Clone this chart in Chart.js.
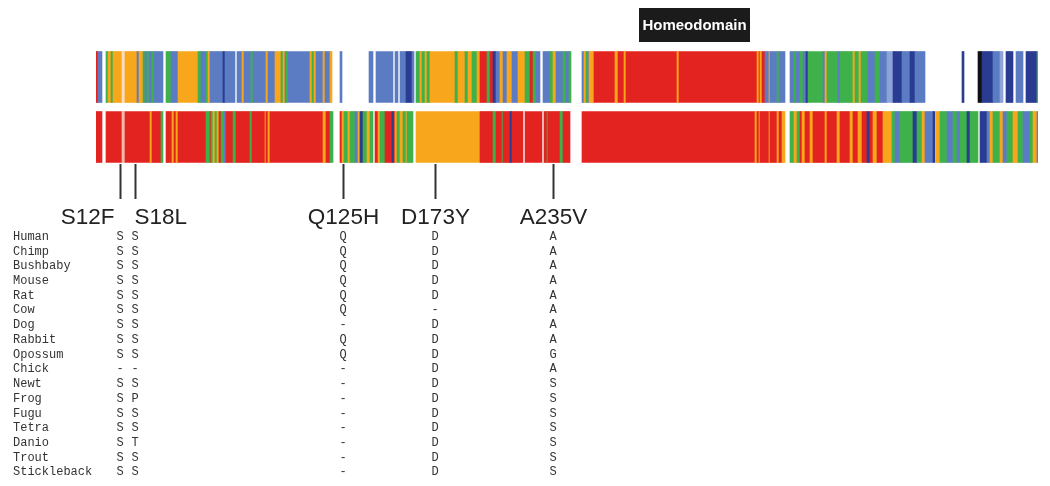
<!DOCTYPE html>
<html>
<head>
<meta charset="utf-8">
<script src="https://cdn.jsdelivr.net/npm/chart.js@4"></script>
<style>
  html, body { margin: 0; padding: 0; background: #fff; }
  canvas { display: block; }
</style>
</head>
<body>
<canvas id="track-chart" width="1050" height="486"></canvas>
<script>
// conservation tracks: [startColumn, endColumn, class]
// R red, O orange, G green, B blue, D dark blue, L light blue, K black, p/P pale (mutated site)
const topTrack = [
  [0,1,'R'],[1,3,'B'],[5,6,'G'],[6,7.5,'O'],[7.5,8.5,'G'],[8.5,13,'O'],[13,14.5,'p'],[14.5,20.5,'O'],
  [20.5,21.5,'B'],[21.5,23.5,'O'],[23.5,24.5,'G'],[24.5,25.5,'B'],[25.5,26.5,'G'],[26.5,28,'B'],[28,29,'G'],[29,33.5,'B'],
  [35,37.5,'G'],[37.5,41,'B'],[41,51,'O'],[51,52.5,'G'],[52.5,55,'B'],[55,56,'G'],[56,57,'O'],[57,63.5,'B'],
  [63.5,64.5,'D'],[64.5,69.5,'B'],[70.5,73,'B'],[73,74,'O'],[74,77.5,'B'],[77.5,78.5,'G'],[78.5,85,'B'],[85,86,'O'],
  [86,89.5,'B'],[89.5,92.5,'O'],[92.5,93.5,'G'],[93.5,94.5,'O'],[94.5,95,'B'],[95,96,'G'],[96,107,'B'],[107,108,'O'],
  [108,109,'G'],[109,110,'O'],[110,113.5,'B'],[113.5,114.5,'O'],[114.5,117,'B'],[117,118,'O'],
  [122,123,'B'],[136.5,138.5,'B'],[140,148.5,'B'],[149.5,151,'B'],[152,155,'B'],[155,158,'D'],[158,159,'B'],
  [160,162,'G'],[162,163,'O'],[163,164.5,'G'],[164.5,165.5,'O'],[165.5,167,'G'],[167,179.5,'O'],[179.5,181,'G'],[181,184.5,'O'],
  [184.5,186,'G'],[186,188,'O'],[188,190.5,'G'],[190.5,192,'O'],[192,195.5,'R'],[195.5,197,'G'],[197,198.5,'R'],[198.5,200,'D'],
  [200,202,'B'],[202,203.5,'O'],[203.5,205.5,'B'],[205.5,208,'O'],[208,211,'B'],[211,214.5,'O'],[214.5,217,'G'],[217,218.5,'R'],
  [218.5,220,'G'],[220,222,'B'],[223.5,227,'B'],[227,228.5,'G'],[228.5,230,'O'],[230,233.5,'B'],[233.5,235,'G'],[235,236.5,'B'],
  [236.5,237.5,'G'],
  [243,244,'B'],[244,245,'O'],[245,246,'G'],[246,246.5,'B'],[246.5,249,'O'],[249,259.5,'R'],[259.5,261,'O'],[261,264,'R'],
  [264,265,'O'],[265,290.5,'R'],[290.5,291.5,'O'],[291.5,330.5,'R'],[330.5,331.5,'O'],[331.5,332,'R'],[332,333,'O'],[333,334.5,'R'],
  [334.5,336.5,'B'],[336.5,337,'O'],[337,340.5,'B'],[340.5,341.5,'G'],[341.5,344.5,'B'],
  [347,349,'B'],[349,350,'G'],[350,352,'B'],[352,353.5,'G'],[353.5,355,'B'],[355,356,'D'],[356,363.5,'G'],[363.5,364.5,'B'],
  [364.5,365.5,'O'],[365.5,371,'G'],[371,372,'B'],[372,378.5,'G'],[378.5,379.5,'O'],[379.5,381.5,'G'],[381.5,382.5,'O'],[382.5,386,'G'],
  [386,389.5,'B'],[389.5,392,'G'],[392,395.5,'B'],[395.5,398.5,'L'],[398.5,403,'D'],[403,407,'B'],[407,409.5,'D'],[409.5,414.5,'B'],
  [433,434,'D'],[441,443,'K'],[443,448.5,'D'],[448.5,452,'B'],[452,453.5,'L'],[455,458.5,'D'],[460,463.5,'B'],[465,470.5,'D'],
  [470.5,471,'G']
];
const bottomTrack = [
  [0,3,'R'],[5,13,'R'],[13,14.5,'P'],[14.5,27,'R'],[27,28,'O'],[28,32.5,'R'],[32.5,33.5,'G'],
  [35,38,'R'],[38,39,'O'],[39,40,'R'],[40,41,'O'],[41,55,'R'],[55,57,'G'],[57,57.5,'R'],[57.5,58.5,'G'],[58.5,59.5,'O'],
  [59.5,60.5,'G'],[60.5,61.5,'O'],[61.5,62.5,'R'],[62.5,64,'G'],[64,65,'B'],[65,68.5,'R'],[68.5,70,'G'],[70,77,'R'],
  [77,78,'G'],[78,84.5,'R'],[84.5,85,'O'],[85,86,'R'],[86,87,'O'],[87,113.5,'R'],[113.5,115,'O'],[115,117,'R'],[117,118.5,'G'],
  [122,123,'R'],[123,124,'O'],[124,126,'G'],[126,127,'O'],[127,129.5,'G'],[129.5,131,'B'],[131,132,'O'],[132,133.5,'D'],
  [133.5,135.5,'G'],[135.5,137,'O'],[137,138.5,'G'],
  [139.5,141,'R'],[141,142,'O'],[142,144.5,'G'],[144.5,148,'R'],[148,149,'D'],[149,149.5,'R'],[149.5,150.5,'O'],[150.5,152,'G'],
  [152,153.5,'O'],[153.5,155,'G'],[155,155.5,'O'],[155.5,158.5,'G'],
  [160,192,'O'],[192,198.5,'R'],[198.5,200,'G'],[200,203,'R'],[203,203.5,'G'],[203.5,207,'R'],[207,208,'D'],[208,213.5,'R'],
  [214.5,223,'R'],[224,225.5,'R'],[225.5,226,'G'],[226,232,'R'],[232,233.5,'G'],[233.5,237,'R'],
  [243,329.5,'R'],[329.5,330.5,'O'],[330.5,331.5,'R'],[331.5,332,'O'],[332,336.5,'R'],[336.5,337,'O'],[337,340.5,'R'],
  [340.5,341.5,'O'],[341.5,343,'R'],[343,344.5,'O'],
  [347,349,'G'],[349,350.5,'O'],[350.5,352,'G'],[352,353,'R'],[353,354.5,'O'],[354.5,357,'R'],[357,358.5,'O'],[358.5,364.5,'R'],
  [364.5,365.5,'O'],[365.5,370.5,'R'],[370.5,372,'O'],[372,377,'R'],[377,378.5,'O'],[378.5,381,'R'],[381,383,'O'],[383,385.5,'R'],
  [385.5,387,'D'],[387,388.5,'R'],[388.5,390.5,'O'],[390.5,393.5,'R'],[393.5,398,'O'],[398,399.5,'G'],[399.5,402,'B'],[402,408.5,'G'],
  [408.5,410.5,'D'],[410.5,413,'G'],[413,414.5,'O'],[414.5,418.5,'B'],[418.5,419.5,'D'],[420,422,'O'],[422,425.5,'G'],[425.5,428.5,'B'],
  [428.5,430.5,'G'],[430.5,432,'B'],[432,435.5,'G'],[435.5,437,'D'],[437,441,'G'],
  [442,445.5,'D'],[445.5,447,'B'],[447,448.5,'O'],[448.5,452,'G'],[452,453.5,'O'],[453.5,455.5,'B'],[455.5,458.5,'G'],[458.5,461,'O'],
  [461,463.5,'G'],[463.5,467,'B'],[467,468.5,'G'],[468.5,470.5,'O'],[470.5,471,'B']
];
const trackNames = ['top', 'bottom'];
const palette = {
  R: '#e3231f', O: '#f8a61c', G: '#3fb14b', B: '#5b7cc3', D: '#293c92', L: '#8ea4d8', K: '#111111',
  p: '#fbdcbc', P: '#f3b9ac'
};

// mutations: alignment column, label, residues per species
const mutCols = [12, 19.5, 123.5, 169.5, 228.5];
const mutLabels = ['S12F', 'S18L', 'Q125H', 'D173Y', 'A235V'];
const species = ['Human','Chimp','Bushbaby','Mouse','Rat','Cow','Dog','Rabbit','Opossum','Chick',
                 'Newt','Frog','Fugu','Tetra','Danio','Trout','Stickleback'];
const residues = [
  'SSSSSSSSS-SSSSSSS',   // S12
  'SSSSSSSSS-SPSSTSS',   // S18
  'QQQQQQ-QQ--------',   // Q125
  'DDDDD-DDDDDDDDDDD',   // D173
  'AAAAAAAAGASSSSSSS'    // A235
];
const homeodomain = [271.5, 327];

const annotate = {
  id: 'annotate',
  afterDraw(chart) {
    const ctx = chart.ctx;
    const x = chart.scales.x;
    ctx.save();

    // homeodomain box
    const hx0 = x.getPixelForValue(homeodomain[0]);
    const hx1 = x.getPixelForValue(homeodomain[1]);
    ctx.fillStyle = '#1b1b1b';
    ctx.fillRect(hx0, 8, hx1 - hx0, 34);
    ctx.fillStyle = '#fff';
    ctx.font = 'bold 15px "Liberation Sans", Arial, sans-serif';
    ctx.textAlign = 'center';
    ctx.textBaseline = 'middle';
    ctx.fillText('Homeodomain', (hx0 + hx1) / 2, 25.5);

    // mutation ticks and labels
    ctx.strokeStyle = '#333';
    ctx.lineWidth = 2;
    ctx.fillStyle = '#222';
    ctx.font = '22.5px "Liberation Sans", Arial, sans-serif';
    ctx.textBaseline = 'alphabetic';
    mutCols.forEach((c, i) => {
      const px = Math.round(x.getPixelForValue(c)) + 0.5;
      ctx.beginPath();
      ctx.moveTo(px, 164);
      ctx.lineTo(px, 199);
      ctx.stroke();
      if (i === 0) { ctx.textAlign = 'right'; ctx.fillText(mutLabels[i], px - 6, 224); }
      else if (i === 1) { ctx.textAlign = 'left'; ctx.fillText(mutLabels[i], px - 1, 224); }
      else { ctx.textAlign = 'center'; ctx.fillText(mutLabels[i], px, 224); }
    });

    // alignment table
    ctx.font = '12px "Liberation Mono", "Courier New", monospace';
    ctx.fillStyle = '#333';
    ctx.textBaseline = 'middle';
    species.forEach((name, r) => {
      const y = 236.7 + r * 14.72;
      ctx.textAlign = 'left';
      ctx.fillText(name, 13, y);
      ctx.textAlign = 'center';
      residues.forEach((col, m) => {
        ctx.fillText(col[r], x.getPixelForValue(mutCols[m]), y);
      });
    });
    ctx.restore();
  }
};

function toPoints(track, name) {
  return track.map(s => ({ x: [s[0], s[1]], y: name }));
}

new Chart(document.getElementById('track-chart'), {
  type: 'bar',
  data: {
    labels: trackNames,
    datasets: [
      { data: toPoints(topTrack, 'top'), backgroundColor: topTrack.map(s => palette[s[2]]) },
      { data: toPoints(bottomTrack, 'bottom'), backgroundColor: bottomTrack.map(s => palette[s[2]]) }
    ]
  },
  options: {
    indexAxis: 'y',
    responsive: false,
    animation: false,
    devicePixelRatio: 1,
    grouped: false,
    barThickness: 51,
    borderWidth: 0,
    layout: { padding: { left: 96, right: 12, top: 47, bottom: 319 } },
    scales: {
      x: { type: 'linear', min: 0, max: 471, display: false },
      y: { type: 'category', display: false }
    },
    plugins: { legend: { display: false }, tooltip: { enabled: false } }
  },
  plugins: [annotate]
});
</script>
</body>
</html>
